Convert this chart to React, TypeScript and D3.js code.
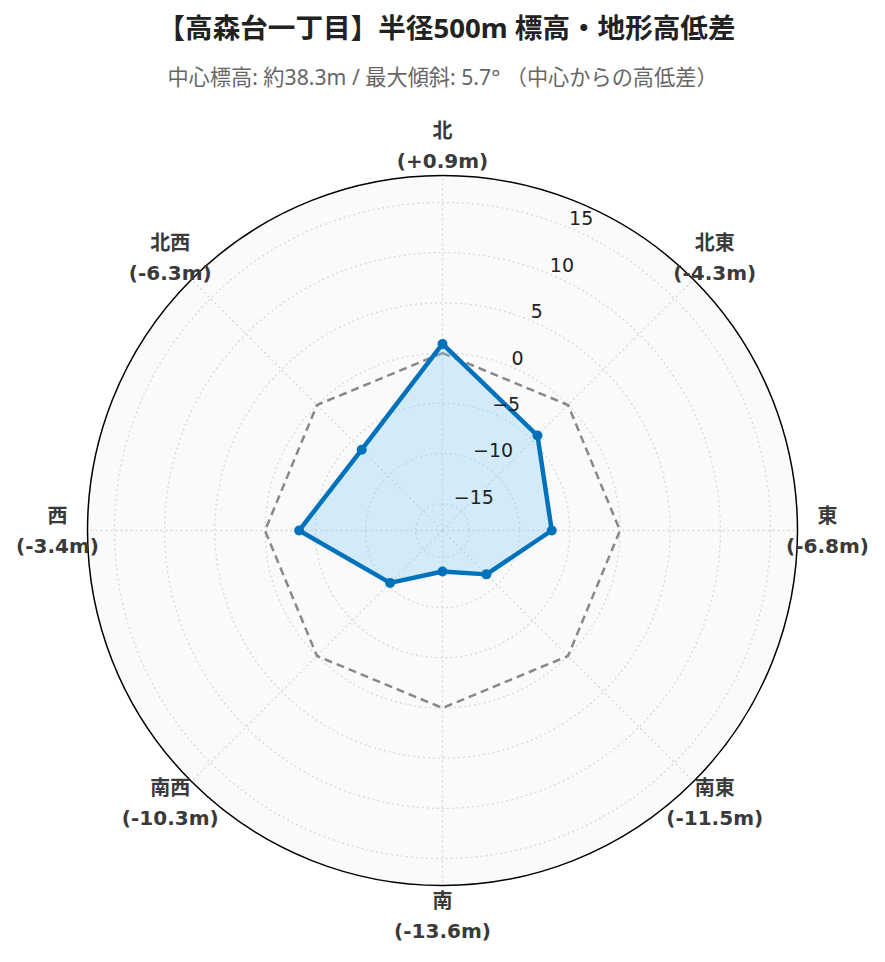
import React from "react";
import * as d3 from "d3";

const directions = ["北", "北東", "東", "南東", "南", "南西", "西", "北西"];
const elevDiff = [0.9, -4.3, -6.8, -11.5, -13.6, -10.3, -3.4, -6.3];
const zeroRef = [0, 0, 0, 0, 0, 0, 0, 0];
const radialTicks = [-15, -10, -5, 0, 5, 10, 15];
const titleText = "【高森台一丁目】半径500m 標高・地形高低差";
const subtitleText = "中心標高: 約38.3m / 最大傾斜: 5.7° （中心からの高低差）";

const W = 885;
const H = 962;
const cx = 442.5;
const cy = 530.5;
const R = 355;
const maxAbs = d3.max(elevDiff, (d) => Math.abs(d)) as number;
const rScale = d3.scaleLinear().domain([-maxAbs * 1.3, maxAbs * 1.3]).range([0, R]);
const angle = (i: number) => (i * 2 * Math.PI) / directions.length;

const fmtLabel = (v: number) => `(${v >= 0 ? "+" : ""}${v.toFixed(1)}m)`;
const fmtTick = (v: number) => (v < 0 ? `\u2212${Math.abs(v)}` : `${v}`);

export default function App() {
  const line = d3
    .lineRadial<number>()
    .angle((_, i) => angle(i))
    .radius((d) => rScale(d))
    .curve(d3.curveLinearClosed);

  const axisAngle = Math.PI / 8; // radial axis 22.5° clockwise from north
  const chartFont = "'DejaVu Sans', 'Noto Sans CJK JP', sans-serif";
  const titleFont = "'Noto Sans', 'Noto Sans CJK JP', sans-serif";

  return (
    <svg
      width={W}
      height={H}
      style={{ position: "absolute", left: 0, top: 0, background: "#fff" }}
    >
      <text
        x={W / 2 + 4}
        y={27}
        textAnchor="middle"
        dominantBaseline="central"
        fontFamily={titleFont}
        fontWeight="bold"
        fontSize={27.6}
        fill="#222"
      >
        {titleText}
      </text>
      <text
        x={W / 2}
        y={76}
        textAnchor="middle"
        dominantBaseline="central"
        fontFamily={titleFont}
        fontSize={21.2}
        fill="#666"
      >
        {subtitleText}
      </text>

      <g transform={`translate(${cx},${cy})`}>
        <circle r={R} fill="#fafafa" />
        {radialTicks.map((t) => (
          <circle
            key={t}
            r={rScale(t)}
            fill="none"
            stroke="#d8d8d8"
            strokeWidth={1.3}
            strokeDasharray="2,3"
          />
        ))}
        {directions.map((d, i) => (
          <line
            key={d}
            x1={0}
            y1={0}
            x2={R * Math.sin(angle(i))}
            y2={-R * Math.cos(angle(i))}
            stroke="#d8d8d8"
            strokeWidth={1.3}
            strokeDasharray="2,3"
          />
        ))}
        <circle r={R} fill="none" stroke="#000" strokeWidth={1.5} />

        <path
          d={line(zeroRef) || ""}
          fill="none"
          stroke="#888"
          strokeWidth={2.5}
          strokeDasharray="8,5"
        />
        <path
          d={line(elevDiff) || ""}
          fill="rgba(135,206,250,0.33)"
          stroke="#0072bb"
          strokeWidth={4.5}
          strokeLinejoin="round"
        />
        {elevDiff.map((v, i) => (
          <circle
            key={i}
            cx={rScale(v) * Math.sin(angle(i))}
            cy={-rScale(v) * Math.cos(angle(i))}
            r={5}
            fill="#0072bb"
          />
        ))}

        {radialTicks.map((t) => {
          const r = rScale(t);
          const x = r * Math.sin(axisAngle);
          const y = -r * Math.cos(axisAngle);
          return (
            <text
              key={t}
              x={x + 1}
              y={y - 9}
              textAnchor="start"
              dominantBaseline="central"
              fontFamily={chartFont}
              fontSize={19}
              fill="#222"
            >
              {fmtTick(t)}
            </text>
          );
        })}

        {directions.map((d, i) => {
          const lr = 385;
          const x = lr * Math.sin(angle(i));
          const y = -lr * Math.cos(angle(i));
          return (
            <g key={d} transform={`translate(${x},${y})`}>
              <text
                y={-15}
                textAnchor="middle"
                dominantBaseline="central"
                fontFamily={chartFont}
                fontWeight="bold"
                fontSize={20}
                fill="#3a3a3a"
              >
                {d}
              </text>
              <text
                y={15}
                textAnchor="middle"
                dominantBaseline="central"
                fontFamily={chartFont}
                fontWeight="bold"
                fontSize={20}
                fill="#3a3a3a"
              >
                {fmtLabel(elevDiff[i])}
              </text>
            </g>
          );
        })}
      </g>
    </svg>
  );
}
